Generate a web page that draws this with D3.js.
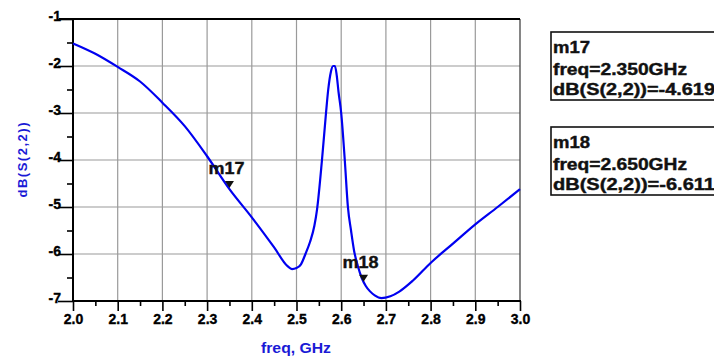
<!DOCTYPE html>
<html>
<head>
<meta charset="utf-8">
<script src="https://cdn.jsdelivr.net/npm/d3@7/dist/d3.min.js"></script>
<style>
  html, body { margin: 0; padding: 0; background: #fff; overflow: hidden; }
  svg { display: block; }
  text { font-family: "Liberation Sans", Arial, sans-serif; font-weight: bold; }
</style>
</head>
<body>
<svg id="chart" width="714" height="359"></svg>
<script>
// ---- data ----
const freqGHz = [2.00, 2.05, 2.10, 2.15, 2.20, 2.25, 2.30, 2.35, 2.40, 2.45, 2.48, 2.49, 2.50, 2.51, 2.52, 2.53, 2.54, 2.546, 2.557, 2.566, 2.571, 2.577, 2.582, 2.586, 2.590, 2.594, 2.600, 2.608, 2.615, 2.622, 2.629, 2.637, 2.646, 2.655, 2.664, 2.675, 2.690, 2.710, 2.730, 2.760, 2.800, 2.850, 2.900, 2.950, 3.000];
const s22dB   = [-1.52, -1.74, -2.02, -2.33, -2.78, -3.28, -3.92, -4.62, -5.22, -5.86, -6.26, -6.32, -6.30, -6.22, -6.00, -5.75, -5.40, -5.05, -4.00, -3.00, -2.50, -2.12, -2.00, -2.00, -2.20, -2.55, -3.00, -4.00, -5.00, -5.50, -5.94, -6.25, -6.51, -6.68, -6.79, -6.88, -6.94, -6.90, -6.80, -6.57, -6.19, -5.78, -5.37, -5.00, -4.62];
const xMajorTicks = [2.0, 2.1, 2.2, 2.3, 2.4, 2.5, 2.6, 2.7, 2.8, 2.9, 3.0];
const xMinorTicks = [2.05, 2.15, 2.25, 2.35, 2.45, 2.55, 2.65, 2.75, 2.85, 2.95];
const yMajorTicks = [-7, -6, -5, -4, -3, -2, -1];
const yMinorTicks = [-6.5, -5.5, -4.5, -3.5, -2.5, -1.5];
const markerNames = ["m17", "m18"];
const markerFreq  = [2.350, 2.650];
const markerValue = [-4.619, -6.611];
const xTitle = "freq, GHz";
const yTitle = "dB(S(2,2))";

// ---- layout ----
const svg = d3.select("#chart");
const L = 73, R = 520, T = 19, B = 301;
const x = d3.scaleLinear().domain([2, 3]).range([L, R]);
const y = d3.scaleLinear().domain([-7, -1]).range([B, T]);

// grid
const grid = svg.append("g");
grid.selectAll("line.v").data(xMajorTicks.slice(1, -1)).enter().append("line")
  .attr("x1", d => x(d)).attr("x2", d => x(d)).attr("y1", T).attr("y2", B)
  .attr("stroke", "#9a9a9a").attr("stroke-width", 1.2);
grid.selectAll("line.h").data(yMajorTicks.slice(1, -1)).enter().append("line")
  .attr("x1", L).attr("x2", R).attr("y1", d => y(d)).attr("y2", d => y(d))
  .attr("stroke", "#9a9a9a").attr("stroke-width", 1.2);

// right border
svg.append("line").attr("x1", R).attr("x2", R).attr("y1", T).attr("y2", B)
  .attr("stroke", "#444").attr("stroke-width", 1.3);
// top border
svg.append("line").attr("x1", L - 14).attr("x2", R).attr("y1", T).attr("y2", T)
  .attr("stroke", "#000").attr("stroke-width", 2);

// left axis
const yAxis = svg.append("g").attr("transform", `translate(${L},0)`)
  .call(d3.axisLeft(y).tickValues(yMajorTicks).tickSize(15).tickFormat(d3.format("d")));
yAxis.select(".domain").attr("stroke-width", 2).attr("d", `M0,${T}V${B}`);
yAxis.selectAll(".tick line").attr("stroke-width", 1.6);
yAxis.selectAll(".tick text").attr("x", -12).attr("dy", "0.08em")
  .attr("font-size", 14).attr("font-family", "Liberation Sans, Arial, sans-serif")
  .attr("font-weight", "bold").attr("fill", "#000")
  .attr("stroke", "#000").attr("stroke-width", 0.35)
  .text(d => String(d).replace("\u2212", "-"));
const yMinor = svg.append("g").attr("transform", `translate(${L},0)`)
  .call(d3.axisLeft(y).tickValues(yMinorTicks).tickSize(6).tickFormat(""));
yMinor.select(".domain").remove();
yMinor.selectAll(".tick line").attr("stroke-width", 1.6);

// bottom axis
const xAxis = svg.append("g").attr("transform", `translate(0,${B})`)
  .call(d3.axisBottom(x).tickValues(xMajorTicks).tickSize(10).tickFormat(d3.format(".1f")));
xAxis.select(".domain").attr("stroke-width", 2).attr("d", `M${L - 1},0H${R + 1}`);
xAxis.selectAll(".tick line").attr("stroke-width", 1.6);
xAxis.selectAll(".tick text").attr("y", 23).attr("dy", 0)
  .attr("font-size", 14).attr("font-family", "Liberation Sans, Arial, sans-serif")
  .attr("font-weight", "bold").attr("fill", "#000")
  .attr("stroke", "#000").attr("stroke-width", 0.35);
const xMinor = svg.append("g").attr("transform", `translate(0,${B})`)
  .call(d3.axisBottom(x).tickValues(xMinorTicks).tickSize(5).tickFormat(""));
xMinor.select(".domain").remove();
xMinor.selectAll(".tick line").attr("stroke-width", 1.6);

// axis titles
svg.append("text").attr("x", 296).attr("y", 353).attr("text-anchor", "middle")
  .attr("font-size", 15).attr("fill", "#1a1ad6").attr("textLength", 70)
  .attr("lengthAdjust", "spacingAndGlyphs").text(xTitle);
svg.append("text").attr("transform", "translate(27,160) rotate(-90)")
  .attr("text-anchor", "middle").attr("font-size", 13).attr("fill", "#1a1ad6")
  .attr("textLength", 75).attr("lengthAdjust", "spacing").text(yTitle);

// curve
const pts = freqGHz.map((f, i) => [f, s22dB[i]]);
svg.append("path").datum(pts)
  .attr("fill", "none").attr("stroke", "#0000f0").attr("stroke-width", 2.2)
  .attr("stroke-linejoin", "round")
  .attr("d", d3.line().x(d => x(d[0])).y(d => y(d[1])).curve(d3.curveMonotoneX));

// markers
markerNames.forEach((name, i) => {
  const px = x(markerFreq[i]), py = y(markerValue[i]);
  svg.append("path")
    .attr("d", `M${px - 4.5},${py - 8}L${px + 4.5},${py - 8}L${px},${py - 1}Z`)
    .attr("fill", "#111");
  svg.append("text").attr("x", px - 21).attr("y", py - 15)
    .attr("font-size", 17).attr("fill", "#111").attr("stroke", "#111").attr("stroke-width", 0.4)
    .attr("textLength", 36).attr("lengthAdjust", "spacingAndGlyphs").text(name);
});

// marker readout boxes
const boxTop = [32, 127];
markerNames.forEach((name, i) => {
  const t = boxTop[i];
  svg.append("rect").attr("x", 551).attr("y", t).attr("width", 175).attr("height", 68)
    .attr("fill", "#fff").attr("stroke", "#111").attr("stroke-width", 1.6);
  const lines = [
    name,
    "freq=" + markerFreq[i].toFixed(3) + "GHz",
    "dB(S(2,2))=" + markerValue[i].toFixed(3)
  ];
  const widths = [37, 134, 162];
  const offs = [21, 43, 63];
  lines.forEach((s, j) => {
    svg.append("text").attr("x", 553).attr("y", t + offs[j])
      .attr("font-size", 16).attr("fill", "#111").attr("stroke", "#111").attr("stroke-width", 0.4)
      .attr("textLength", widths[j]).attr("lengthAdjust", "spacingAndGlyphs").text(s);
  });
});
</script>
</body>
</html>
